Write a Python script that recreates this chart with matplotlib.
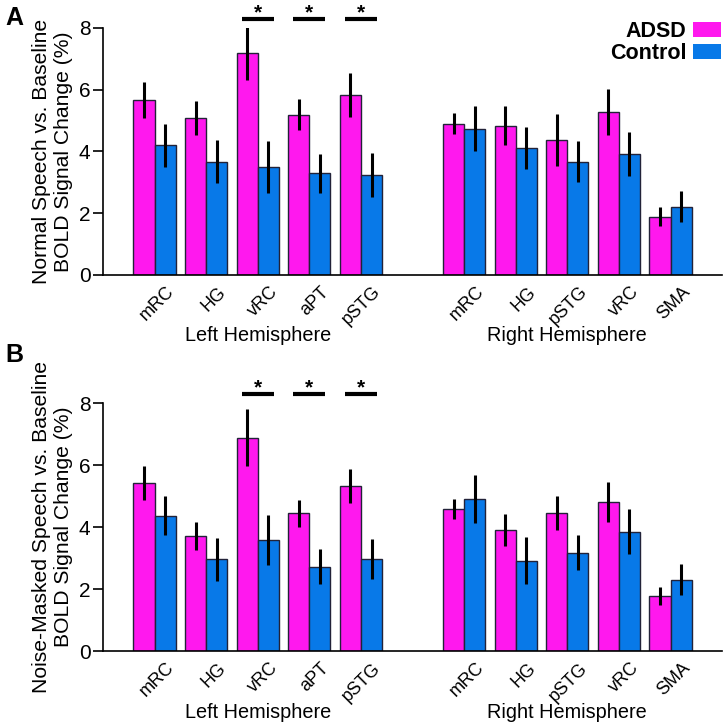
import matplotlib
matplotlib.use("Agg")
import matplotlib.pyplot as plt
import matplotlib.patches as mpatches
import numpy as np

plt.rcParams['font.family'] = ['Liberation Sans', 'DejaVu Sans']

left_regions = ["mRC", "HG", "vRC", "aPT", "pSTG"]
right_regions = ["mRC", "HG", "pSTG", "vRC", "SMA"]
tick_labels = left_regions + right_regions

# Panel A: Normal speech vs baseline
a_adsd = [5.66, 5.08, 7.19, 5.19, 5.83, 4.90, 4.84, 4.38, 5.27, 1.89]
a_adsd_err = [0.59, 0.55, 0.89, 0.50, 0.72, 0.34, 0.63, 0.84, 0.74, 0.31]
a_ctrl = [4.20, 3.67, 3.50, 3.29, 3.23, 4.74, 4.10, 3.67, 3.92, 2.21]
a_ctrl_err = [0.70, 0.70, 0.84, 0.63, 0.71, 0.74, 0.68, 0.67, 0.72, 0.50]

# Panel B: Noise-masked speech vs baseline
b_adsd = [5.43, 3.72, 6.89, 4.45, 5.33, 4.60, 3.92, 4.47, 4.82, 1.78]
b_adsd_err = [0.55, 0.46, 0.93, 0.44, 0.55, 0.32, 0.52, 0.55, 0.65, 0.30]
b_ctrl = [4.37, 2.96, 3.58, 2.73, 2.98, 4.92, 2.91, 3.18, 3.86, 2.31]
b_ctrl_err = [0.63, 0.69, 0.81, 0.58, 0.65, 0.78, 0.76, 0.57, 0.72, 0.49]

significant = [2, 3, 4]  # vRC, aPT, pSTG (left)
sig_level = 8.3

PINK = "#FF18EE"
BLUE = "#0879E8"
EDGE = "#222238"

positions = np.array([0, 1, 2, 3, 4, 6, 7, 8, 9, 10], dtype=float)
w = 0.41

fig = plt.figure(figsize=(7.25, 7.25), dpi=100)
axA = fig.add_axes([0.142, 0.6207, 0.854, 0.3407])
axB = fig.add_axes([0.142, 0.102, 0.854, 0.3417])

def draw(ax, adsd, adsd_err, ctrl, ctrl_err, ylabel, hemi_y):
    ax.bar(positions - w / 2, adsd, width=w, color=PINK, edgecolor=EDGE, linewidth=1.0, zorder=2)
    ax.bar(positions + w / 2, ctrl, width=w, color=BLUE, edgecolor=EDGE, linewidth=1.0, zorder=2)
    ax.errorbar(positions - w / 2, adsd, yerr=adsd_err, fmt='none', ecolor='black', elinewidth=2.2, capsize=0, zorder=3)
    ax.errorbar(positions + w / 2, ctrl, yerr=ctrl_err, fmt='none', ecolor='black', elinewidth=2.2, capsize=0, zorder=3)
    ax.set_xlim(-1.0, 11.0)
    ax.set_ylim(0, 8)
    ax.set_yticks([0, 2, 4, 6, 8])
    ax.tick_params(axis='y', labelsize=15, length=7, width=1.2, pad=2)
    ax.spines['top'].set_visible(False)
    ax.spines['right'].set_visible(False)
    ax.spines['left'].set_linewidth(1.2)
    ax.spines['bottom'].set_linewidth(1.2)
    ax.set_xticks(positions + 0.22)
    ax.set_xticklabels(tick_labels, rotation=45, ha='right', rotation_mode='anchor', fontsize=13)
    ax.tick_params(axis='x', length=0, pad=6)
    ax.set_ylabel(ylabel, fontsize=15.2, linespacing=1.2, labelpad=4)
    for i in significant:
        x = positions[i]
        ax.plot([x - 0.31, x + 0.31], [sig_level, sig_level], color='black', lw=3, clip_on=False, solid_capstyle='butt')
        ax.text(x, sig_level + 0.02, "*", ha='center', va='baseline', fontsize=15, fontweight='bold', clip_on=False)
    ax.text(np.mean(positions[:5]), hemi_y, "Left Hemisphere", ha='center', va='center', fontsize=14.3)
    ax.text(np.mean(positions[5:]), hemi_y, "Right Hemisphere", ha='center', va='center', fontsize=14.3)

draw(axA, a_adsd, a_adsd_err, a_ctrl, a_ctrl_err, "Normal Speech vs. Baseline\nBOLD Signal Change (%)", -1.97)
draw(axB, b_adsd, b_adsd_err, b_ctrl, b_ctrl_err, "Noise-Masked Speech vs. Baseline\nBOLD Signal Change (%)", -1.97)

fig.text(0.008, 0.975, "A", fontsize=18, fontweight='bold', va='center')
fig.text(0.008, 0.51, "B", fontsize=18, fontweight='bold', va='center')

handles = [mpatches.Patch(facecolor=PINK, edgecolor='none'), mpatches.Patch(facecolor=BLUE, edgecolor='none')]
leg = axA.legend(handles, ["ADSD", "Control"], loc='upper right', bbox_to_anchor=(0.998, 1.03),
                 frameon=False, markerfirst=False, handlelength=1.3, handleheight=0.7,
                 handletextpad=0.3, labelspacing=0.05, borderaxespad=0, borderpad=0,
                 prop={'weight': 'bold', 'size': 15.5})

fig.savefig("out.png", dpi=100)
